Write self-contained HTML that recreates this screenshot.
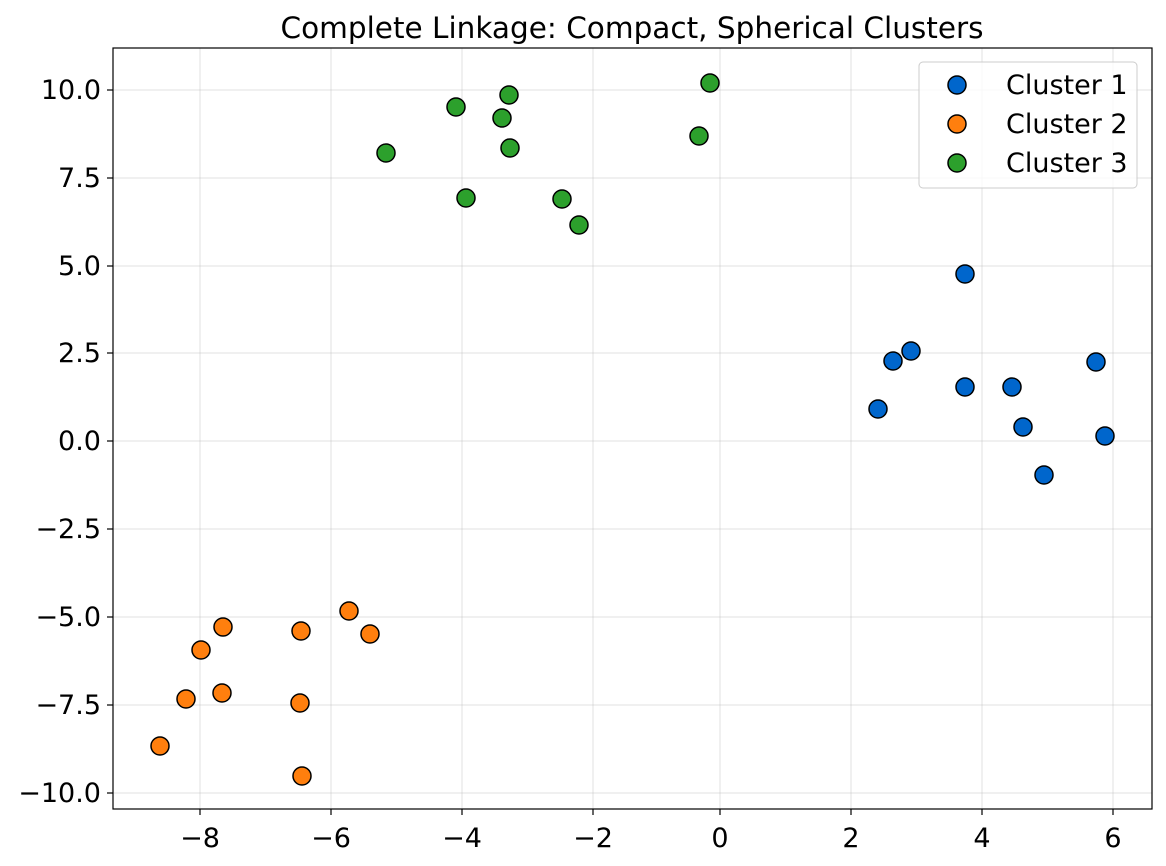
<!DOCTYPE html>
<html><head><meta charset="utf-8"><style>body{margin:0;background:#fff}svg{display:block}text{font-family:"DejaVu Sans","Liberation Sans",sans-serif;fill:#000}</style></head>
<body>
<svg width="1166" height="866" viewBox="0 0 1166 866" xmlns="http://www.w3.org/2000/svg">
<rect width="1166" height="866" fill="#fff"/>
<g stroke="#b0b0b0" stroke-opacity="0.3" stroke-width="1.2">
<line x1="200" y1="48" x2="200" y2="809"/><line x1="331" y1="48" x2="331" y2="809"/><line x1="462" y1="48" x2="462" y2="809"/><line x1="593" y1="48" x2="593" y2="809"/><line x1="720" y1="48" x2="720" y2="809"/><line x1="851" y1="48" x2="851" y2="809"/><line x1="982" y1="48" x2="982" y2="809"/><line x1="1113" y1="48" x2="1113" y2="809"/>
<line x1="113" y1="90" x2="1152" y2="90"/><line x1="113" y1="178" x2="1152" y2="178"/><line x1="113" y1="266" x2="1152" y2="266"/><line x1="113" y1="353" x2="1152" y2="353"/><line x1="113" y1="441" x2="1152" y2="441"/><line x1="113" y1="529" x2="1152" y2="529"/><line x1="113" y1="617" x2="1152" y2="617"/><line x1="113" y1="705" x2="1152" y2="705"/><line x1="113" y1="793" x2="1152" y2="793"/>
</g>
<g stroke="#000" stroke-width="1.5">
<g fill="#2ca02c"><circle cx="456" cy="107" r="9"/><circle cx="509" cy="95" r="9"/><circle cx="502" cy="118" r="9"/><circle cx="510" cy="148" r="9"/><circle cx="386" cy="153" r="9"/><circle cx="466" cy="198" r="9"/><circle cx="562" cy="199" r="9"/><circle cx="579" cy="225" r="9"/><circle cx="699" cy="136" r="9"/><circle cx="710" cy="83" r="9"/></g>
<g fill="#0066cc"><circle cx="965" cy="274" r="9"/><circle cx="911" cy="351" r="9"/><circle cx="893" cy="361" r="9"/><circle cx="965" cy="387" r="9"/><circle cx="1012" cy="387" r="9"/><circle cx="1096" cy="362" r="9"/><circle cx="878" cy="409" r="9"/><circle cx="1023" cy="427" r="9"/><circle cx="1105" cy="436" r="9"/><circle cx="1044" cy="475" r="9"/></g>
<g fill="#ff7f0e"><circle cx="349" cy="611" r="9"/><circle cx="223" cy="627" r="9"/><circle cx="301" cy="631" r="9"/><circle cx="370" cy="634" r="9"/><circle cx="201" cy="650" r="9"/><circle cx="222" cy="693" r="9"/><circle cx="186" cy="699" r="9"/><circle cx="300" cy="703" r="9"/><circle cx="160" cy="746" r="9"/><circle cx="302" cy="776" r="9"/></g>
</g>
<rect x="113" y="48" width="1039" height="761" fill="none" stroke="#000" stroke-width="1.2"/>
<g stroke="#000" stroke-width="1.2">
<line x1="200" y1="809" x2="200" y2="815"/><line x1="331" y1="809" x2="331" y2="815"/><line x1="462" y1="809" x2="462" y2="815"/><line x1="593" y1="809" x2="593" y2="815"/><line x1="720" y1="809" x2="720" y2="815"/><line x1="851" y1="809" x2="851" y2="815"/><line x1="982" y1="809" x2="982" y2="815"/><line x1="1113" y1="809" x2="1113" y2="815"/>
<line x1="107" y1="90" x2="113" y2="90"/><line x1="107" y1="178" x2="113" y2="178"/><line x1="107" y1="266" x2="113" y2="266"/><line x1="107" y1="353" x2="113" y2="353"/><line x1="107" y1="441" x2="113" y2="441"/><line x1="107" y1="529" x2="113" y2="529"/><line x1="107" y1="617" x2="113" y2="617"/><line x1="107" y1="705" x2="113" y2="705"/><line x1="107" y1="793" x2="113" y2="793"/>
</g>
<g font-size="27" text-anchor="middle">
<text x="200" y="847">−8</text><text x="331" y="847">−6</text><text x="462" y="847">−4</text><text x="593" y="847">−2</text><text x="720" y="847">0</text><text x="851" y="847">2</text><text x="982" y="847">4</text><text x="1113" y="847">6</text>
</g>
<g font-size="27" text-anchor="end">
<text x="101" y="99">10.0</text><text x="101" y="187">7.5</text><text x="101" y="275">5.0</text><text x="101" y="362">2.5</text><text x="101" y="450">0.0</text><text x="101" y="538">−2.5</text><text x="101" y="626">−5.0</text><text x="101" y="714">−7.5</text><text x="101" y="802">−10.0</text>
</g>
<text x="632" y="38" font-size="29.5" text-anchor="middle">Complete Linkage: Compact, Spherical Clusters</text>
<rect x="919" y="62" width="218" height="126" rx="4" fill="#fff" fill-opacity="0.8" stroke="#ccc"/>
<g stroke="#000" stroke-width="1.5"><circle cx="957" cy="85" r="9" fill="#0066cc"/><circle cx="957" cy="124" r="9" fill="#ff7f0e"/><circle cx="957" cy="163" r="9" fill="#2ca02c"/></g>
<g font-size="27"><text x="1006" y="94">Cluster 1</text><text x="1006" y="133">Cluster 2</text><text x="1006" y="172">Cluster 3</text></g>
</svg>
</body></html>
